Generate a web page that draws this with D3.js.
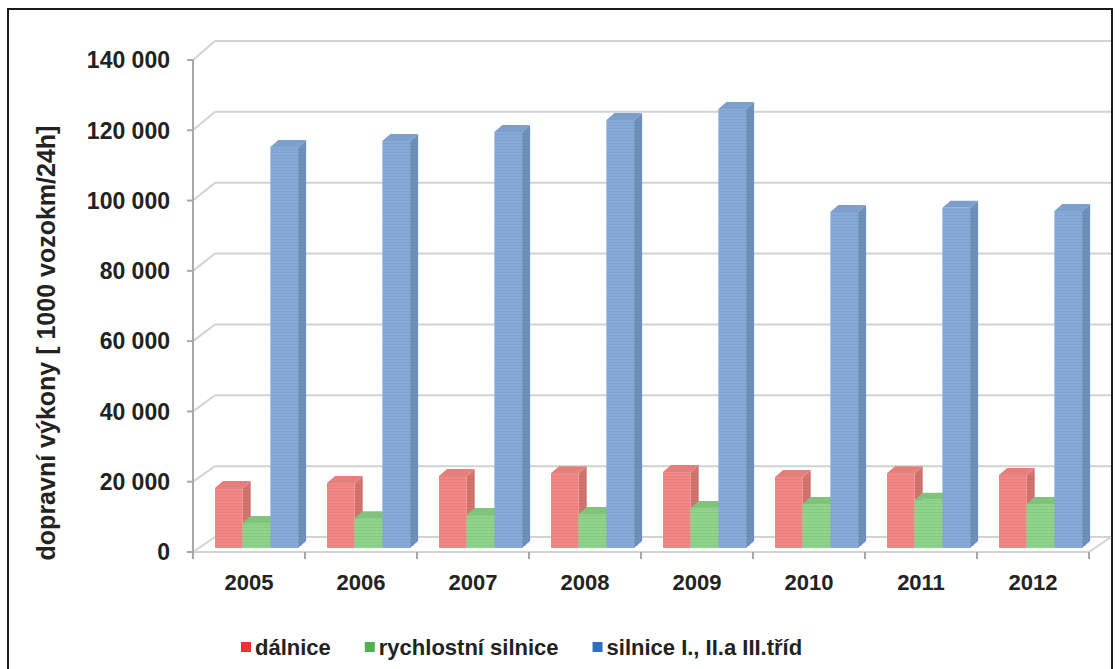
<!DOCTYPE html>
<html>
<head>
<meta charset="utf-8">
<script src="https://cdn.jsdelivr.net/npm/d3@7"></script>
<style>
  html, body { margin: 0; padding: 0; background: #fff; }
  svg { display: block; font-family: "Liberation Sans", Arial, sans-serif; }
</style>
</head>
<body>
<svg id="chart" width="1120" height="669"></svg>
<script>
// Data: traffic performance by road class (1000 vehicle-km / 24h)
const years = ["2005", "2006", "2007", "2008", "2009", "2010", "2011", "2012"];
const dalnice = [17100, 18500, 20500, 21300, 21600, 20200, 21300, 20800];
const rychlostni = [7100, 8500, 9400, 9700, 11400, 12500, 13700, 12500];
const silnice = [114100, 115800, 118400, 121800, 124900, 95600, 96800, 95900];
const seriesNames = ["dálnice", "rychlostní silnice", "silnice I., II.a III.tříd"];
const yTicks = [0, 20000, 40000, 60000, 80000, 100000, 120000, 140000];
const yTitle = "dopravní výkony [ 1000 vozokm/24h]";

const series = [dalnice, rychlostni, silnice];
const palette = [
  { front: "#F38783", side: "#D27471", top: "#E4807C", key: "#EE3131" },
  { front: "#8ED48A", side: "#72B66E", top: "#80C47C", key: "#4DB34F" },
  { front: "#86AAD8", side: "#6E90BC", top: "#7D9FCC", key: "#2F6EC0" }
];

const svg = d3.select("#chart");

// Pseudo-3D geometry: a front plane and a back wall, offset by depth
const depth = { dx: 22, dy: -16 };
const frontX = d3.scaleBand().domain(years).range([193, 1089]).paddingInner(0).paddingOuter(0);
const yFront = d3.scaleLinear().domain([0, 140000]).range([552, 60]);
const yBack = d3.scaleLinear().domain([0, 140000]).range([537, 41]);
const backX0 = 193 + depth.dx, backX1 = 1089 + depth.dx;

// Bars sit slightly behind the front plane
const barShift = { dx: 6, dy: -4 };
const yBar = d3.scaleLinear().domain([0, 140000]).range([552 + barShift.dy, 60 + barShift.dy]);
const barW = 27.7;
const barDepth = { dx: 8, dy: -7 };

// Outer frame
svg.append("rect")
  .attr("x", 8).attr("y", 9).attr("width", 1104).attr("height", 700)
  .attr("fill", "none").attr("stroke", "#1a1a1a").attr("stroke-width", 2);

// Stripe texture for bar faces
const defs = svg.append("defs");
const pat = defs.append("pattern")
  .attr("id", "stripes").attr("width", 4).attr("height", 3)
  .attr("patternUnits", "userSpaceOnUse");
pat.append("rect").attr("x", 0).attr("y", 2).attr("width", 4).attr("height", 1)
  .attr("fill", "#000").attr("opacity", 0.05);

const grid = svg.append("g").attr("stroke", "#d2d2d2").attr("stroke-width", 2).attr("fill", "none");

// Back wall gridlines and side-wall diagonals
yTicks.forEach(v => {
  grid.append("line")
    .attr("x1", backX0).attr("x2", backX1)
    .attr("y1", yBack(v)).attr("y2", yBack(v));
  grid.append("line")
    .attr("x1", 193).attr("y1", yFront(v))
    .attr("x2", backX0).attr("y2", yBack(v));
});

// Floor front edge and right edge
grid.append("line")
  .attr("x1", 193).attr("x2", 1089)
  .attr("y1", yFront(0)).attr("y2", yFront(0));
grid.append("line")
  .attr("x1", 1089).attr("y1", yFront(0))
  .attr("x2", backX1).attr("y2", yBack(0));

// Value axis (front left edge)
const axisG = svg.append("g");
axisG.append("line")
  .attr("x1", 193).attr("x2", 193)
  .attr("y1", yFront(140000)).attr("y2", yFront(0))
  .attr("stroke", "#a8a8a8").attr("stroke-width", 2);

const fmt = v => d3.format(",")(v).replace(/,/g, " ");
yTicks.forEach(v => {
  axisG.append("line")
    .attr("x1", 187).attr("x2", 193)
    .attr("y1", yFront(v)).attr("y2", yFront(v))
    .attr("stroke", "#a8a8a8").attr("stroke-width", 2);
  axisG.append("text")
    .attr("x", 170).attr("y", yFront(v))
    .attr("dy", "0.36em")
    .attr("text-anchor", "end")
    .attr("font-size", 23).attr("font-weight", "bold")
    .attr("fill", "#222")
    .text(fmt(v));
});

// Category ticks and labels
const catG = svg.append("g");
d3.range(years.length + 1).forEach(i => {
  const x = 193 + frontX.bandwidth() * i;
  catG.append("line")
    .attr("x1", x).attr("x2", x)
    .attr("y1", yFront(0)).attr("y2", yFront(0) + 7)
    .attr("stroke", "#a8a8a8").attr("stroke-width", 2);
});
years.forEach(y => {
  catG.append("text")
    .attr("x", frontX(y) + frontX.bandwidth() / 2)
    .attr("y", 582).attr("dy", "0.36em")
    .attr("text-anchor", "middle")
    .attr("font-size", 22).attr("font-weight", "bold")
    .attr("fill", "#222")
    .text(y);
});

// Bars: front face, right side and top face
const barsG = svg.append("g");
years.forEach((yr, i) => {
  const gx = frontX(yr) + 22;
  series.forEach((vals, s) => {
    const c = palette[s];
    const x0 = gx + s * barW, x1 = x0 + barW;
    const base = yBar(0), top = yBar(vals[i]);
    const g = barsG.append("g");
    // side face
    g.append("polygon")
      .attr("points", [[x1, top], [x1 + barDepth.dx, top + barDepth.dy],
        [x1 + barDepth.dx, base + barDepth.dy], [x1, base]].join(" "))
      .attr("fill", c.side);
    // top face
    g.append("polygon")
      .attr("points", [[x0, top], [x0 + barDepth.dx, top + barDepth.dy],
        [x1 + barDepth.dx, top + barDepth.dy], [x1, top]].join(" "))
      .attr("fill", c.top);
    // front face
    g.append("rect")
      .attr("x", x0).attr("y", top)
      .attr("width", barW).attr("height", base - top)
      .attr("fill", c.front);
    g.append("rect")
      .attr("x", x0).attr("y", top)
      .attr("width", barW + barDepth.dx).attr("height", base - top)
      .attr("fill", "url(#stripes)");
  });
});

// Axis title
svg.append("text")
  .attr("transform", "translate(46,343) rotate(-90)")
  .attr("text-anchor", "middle")
  .attr("dy", "0.36em")
  .attr("font-size", 25).attr("font-weight", "bold")
  .attr("fill", "#222")
  .text(yTitle);

// Legend
const legend = svg.append("g").attr("transform", "translate(241,647)");
let lx = 0;
seriesNames.forEach((name, s) => {
  const item = legend.append("g").attr("transform", `translate(${lx},0)`);
  item.append("rect")
    .attr("x", 0).attr("y", -5).attr("width", 10).attr("height", 10)
    .attr("fill", palette[s].key);
  const t = item.append("text")
    .attr("x", 14).attr("y", 0).attr("dy", "0.36em")
    .attr("font-size", 22).attr("font-weight", "bold")
    .attr("fill", "#222")
    .text(name);
  lx += 14 + t.node().getComputedTextLength() + 34;
});
</script>
</body>
</html>
